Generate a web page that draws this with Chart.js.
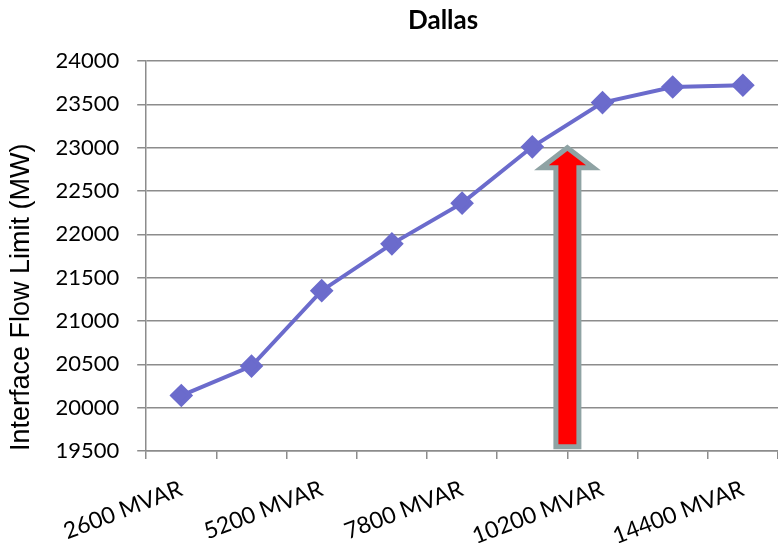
<!DOCTYPE html>
<html>
<head>
<meta charset="utf-8">
<script src="https://cdn.jsdelivr.net/npm/chart.js@4"></script>
<style>
  html, body { margin: 0; padding: 0; background: #fff; overflow: hidden; }
  canvas { display: block; }
</style>
</head>
<body>
<canvas id="dallasChart" width="778" height="543"></canvas>
<script>
const chartTitle = 'Dallas';
const yAxisTitle = 'Interface Flow Limit (MW)';
const categories = ['2600 MVAR', '', '5200 MVAR', '', '7800 MVAR', '', '10200 MVAR', '', '14400 MVAR'];
const flowLimit = [20140, 20480, 21350, 21890, 22360, 23010, 23520, 23700, 23720];
const yMin = 19500;
const yMax = 24000;
const yStep = 500;
// red arrow: sits between categories 5 and 6, from near the axis up to 23000
const arrowAt = 5.5;
const arrowFrom = 19550;
const arrowTo = 23000;

const titlePlugin = {
    id: 'offsetTitle',
    afterDraw(chart) {
        const ctx = chart.ctx;
        const area = chart.chartArea;
        ctx.save();
        ctx.font = 'bold 26px Lato';
        ctx.fillStyle = '#000';
        ctx.textAlign = 'center';
        ctx.textBaseline = 'middle';
        ctx.fillText(chartTitle, (area.left + area.right) / 2 - 19, 21);
        ctx.restore();
    }
};

const arrowPlugin = {
    id: 'upArrow',
    afterDatasetsDraw(chart) {
        const ctx = chart.ctx;
        const x = chart.scales.x.getPixelForValue(arrowAt);
        const yTop = chart.scales.y.getPixelForValue(arrowTo);
        const yBot = chart.scales.y.getPixelForValue(arrowFrom);
        const shaft = 11.5, head = 26, headLen = 20;
        ctx.save();
        ctx.beginPath();
        ctx.moveTo(x, yTop);
        ctx.lineTo(x + head, yTop + headLen);
        ctx.lineTo(x + shaft, yTop + headLen);
        ctx.lineTo(x + shaft, yBot);
        ctx.lineTo(x - shaft, yBot);
        ctx.lineTo(x - shaft, yTop + headLen);
        ctx.lineTo(x - head, yTop + headLen);
        ctx.closePath();
        ctx.fillStyle = '#ff0000';
        ctx.fill();
        ctx.lineWidth = 5;
        ctx.strokeStyle = '#8fa3a4';
        ctx.stroke();
        ctx.restore();
    }
};

const ctx = document.getElementById('dallasChart').getContext('2d');
const dallasChart = new Chart(ctx, {
    type: 'line',
    data: {
        labels: categories,
        datasets: [{
            data: flowLimit,
            borderColor: '#6b6bcc',
            backgroundColor: '#6b6bcc',
            borderWidth: 4,
            pointStyle: 'rectRot',
            pointRadius: 9,
            pointHoverRadius: 9,
            tension: 0,
            fill: false,
            clip: false
        }]
    },
    options: {
        responsive: false,
        animation: false,
        layout: {
            autoPadding: false,
            padding: { top: 61, right: -2, left: -6, bottom: 0 }
        },
        plugins: {
            legend: { display: false },
            tooltip: { enabled: false }
        },
        scales: {
            x: {
                offset: true,
                afterFit(scale) {
                    scale.paddingRight = 0;
                    scale.height = 92;
                },
                grid: {
                    offset: true,
                    drawOnChartArea: false,
                    drawTicks: true,
                    tickLength: 8,
                    color: '#8c8c8c',
                    lineWidth: 1.5
                },
                border: { color: '#8c8c8c', width: 1.5 },
                ticks: {
                    autoSkip: false,
                    minRotation: 21,
                    maxRotation: 21,
                    padding: 16,
                    color: '#000',
                    font: { family: 'Lato', size: 23 }
                }
            },
            y: {
                min: yMin,
                max: yMax,
                grid: {
                    color: '#8c8c8c',
                    lineWidth: 1.5,
                    tickLength: 9
                },
                border: { color: '#8c8c8c', width: 1.5 },
                ticks: {
                    stepSize: yStep,
                    padding: 18,
                    color: '#000',
                    font: { family: 'Lato', size: 22 },
                    callback: (v) => String(v)
                },
                title: {
                    display: true,
                    text: yAxisTitle,
                    align: 'start',
                    color: '#000',
                    padding: { top: 11, bottom: 0 },
                    font: { family: 'Liberation Sans', size: 27 }
                }
            }
        }
    },
    plugins: [titlePlugin, arrowPlugin]
});
</script>
</body>
</html>
